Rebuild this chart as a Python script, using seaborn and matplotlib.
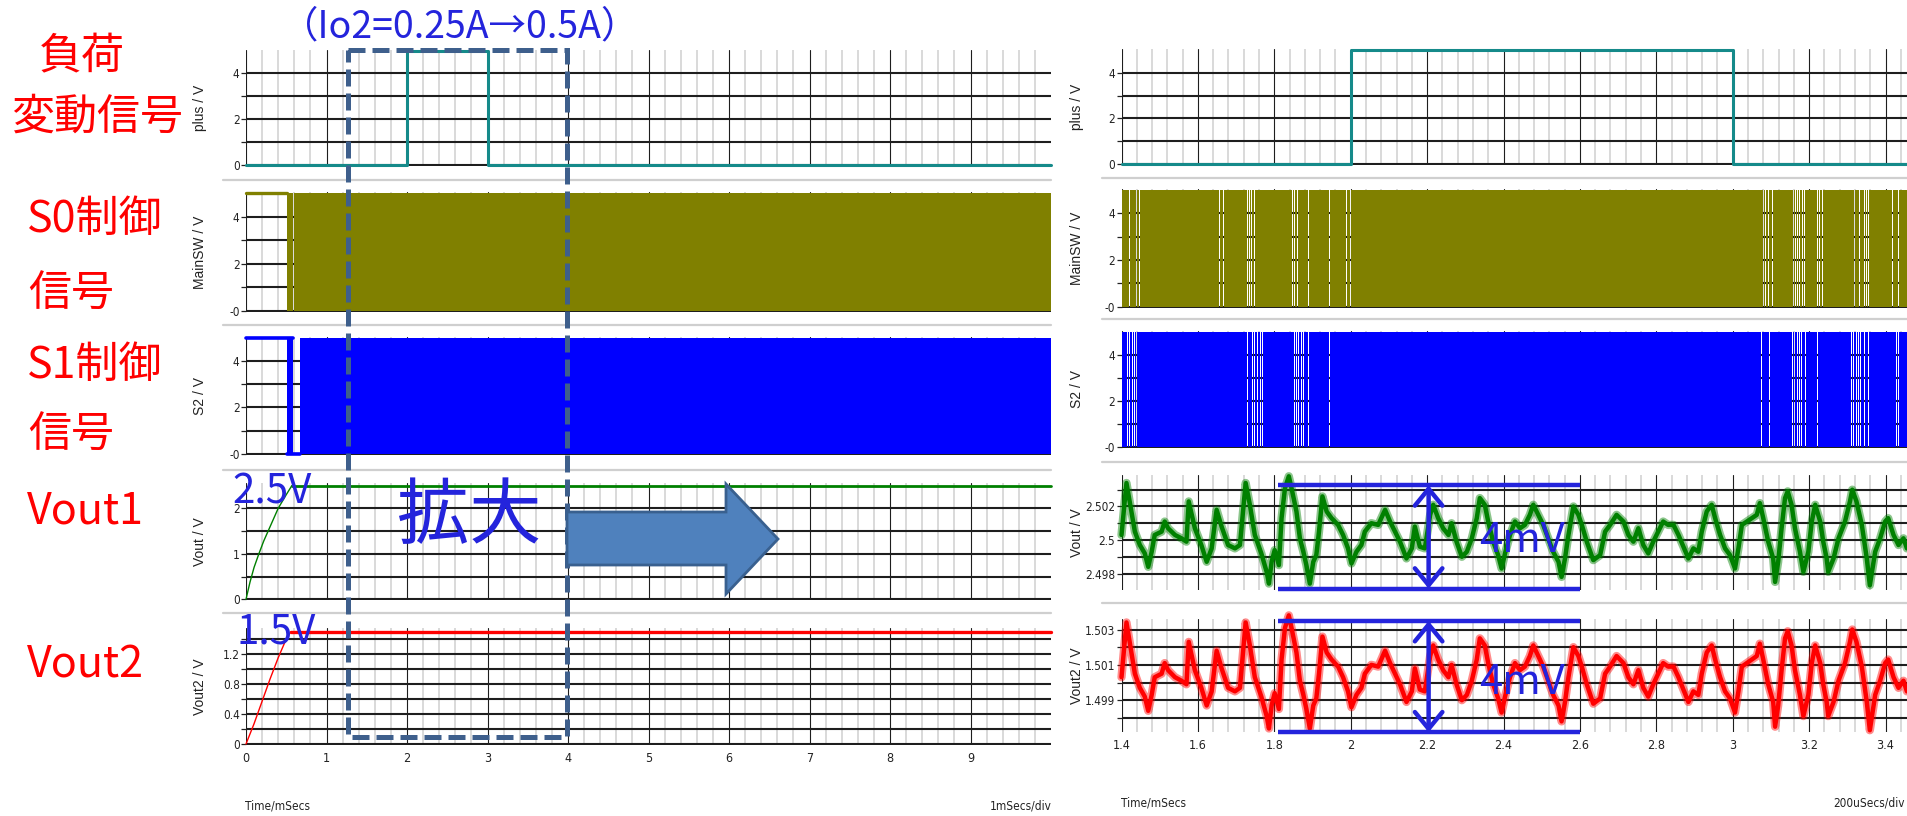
import numpy as np
import pandas as pd
import matplotlib
matplotlib.use("Agg")
import matplotlib.pyplot as plt
import seaborn as sns
from matplotlib.patches import Rectangle, Polygon
from matplotlib.transforms import blended_transform_factory
from matplotlib import font_manager

# ---------------------------------------------------------------- data
# load-step signal (plus): level changes at these times [ms]
plus_edges_ms = [0.0, 2.0, 3.0, 10.0]
plus_levels_v = [0.0, 5.0, 0.0]

# long-window switching signals (0 .. 10 ms)
main_hold_end_ms = 0.51          # MainSW held high during start-up
main_left_gaps_ms = [0.588, 0.621]
s2_hold_end_ms = 0.513           # S2 held high during start-up
s2_burst_end_ms = 0.58
s2_switch_start_ms = 0.67

# start-up ramps of both outputs
vout1_ramp_t = [0.0, 0.05, 0.10, 0.16, 0.22, 0.30, 0.40, 0.50, 0.57]
vout1_ramp_v = [0.0, 0.38, 0.70, 1.00, 1.28, 1.60, 2.00, 2.30, 2.50]
vout2_ramp_t = [0.0, 0.10, 0.20, 0.30, 0.40, 0.50, 0.56]
vout2_ramp_v = [0.0, 0.27, 0.57, 0.87, 1.15, 1.40, 1.50]
vout1_set_v = 2.5
vout2_set_v = 1.5

# zoomed window (1.4 .. 3.46 ms): skipped pulses (gaps in the switching)
main_right_gaps_ms = [1.422, 1.438, 1.448, 1.656, 1.668, 1.729, 1.735, 1.740,
                      1.748, 1.848, 1.854, 1.861, 1.889, 1.944, 1.988, 1.999,
                      3.080, 3.086, 3.093, 3.105, 3.159, 3.164, 3.170, 3.176,
                      3.183, 3.189, 3.222, 3.227, 3.236, 3.320, 3.331, 3.345,
                      3.351, 3.356, 3.419, 3.435]
s2_right_gaps_ms = [1.416, 1.422, 1.428, 1.434, 1.439, 1.730, 1.742, 1.749,
                    1.757, 1.763, 1.770, 1.852, 1.857, 1.863, 1.870, 1.877,
                    1.889, 1.944, 3.076, 3.096, 3.150, 3.156, 3.163, 3.169,
                    3.174, 3.181, 3.191, 3.223, 3.311, 3.317, 3.323, 3.329,
                    3.335, 3.346, 3.356, 3.428, 3.435]

# output ripple around the set point [mV]
ripple_t = [1.400, 1.413, 1.426, 1.435, 1.448, 1.461, 1.470, 1.479, 1.487, 1.505,
            1.513, 1.522, 1.540, 1.557, 1.570, 1.576, 1.592, 1.609, 1.623, 1.636,
            1.649, 1.662, 1.679, 1.697, 1.710, 1.725, 1.736, 1.749, 1.766, 1.780,
            1.786, 1.793, 1.801, 1.812, 1.819, 1.828, 1.838, 1.845, 1.858, 1.867,
            1.876, 1.884, 1.893, 1.902, 1.910, 1.917, 1.926, 1.937, 1.950, 1.967,
            1.980, 1.993, 2.002, 2.015, 2.028, 2.037, 2.054, 2.072, 2.090, 2.103,
            2.116, 2.129, 2.146, 2.160, 2.168, 2.181, 2.194, 2.208, 2.216, 2.229,
            2.242, 2.256, 2.264, 2.277, 2.291, 2.304, 2.317, 2.330, 2.338, 2.351,
            2.360, 2.373, 2.386, 2.395, 2.404, 2.417, 2.430, 2.443, 2.456, 2.469,
            2.478, 2.491, 2.504, 2.517, 2.530, 2.544, 2.552, 2.561, 2.570, 2.583,
            2.596, 2.605, 2.618, 2.635, 2.653, 2.666, 2.679, 2.696, 2.714, 2.727,
            2.740, 2.753, 2.766, 2.779, 2.792, 2.805, 2.818, 2.831, 2.845, 2.858,
            2.871, 2.884, 2.897, 2.910, 2.919, 2.932, 2.945, 2.954, 2.967, 2.980,
            2.993, 3.006, 3.015, 3.024, 3.037, 3.050, 3.063, 3.071, 3.080, 3.093,
            3.106, 3.111, 3.119, 3.128, 3.137, 3.144, 3.154, 3.163, 3.176, 3.185,
            3.198, 3.207, 3.216, 3.229, 3.237, 3.246, 3.250, 3.264, 3.277, 3.294,
            3.307, 3.313, 3.324, 3.338, 3.351, 3.359, 3.373, 3.386, 3.399, 3.407,
            3.421, 3.434, 3.447, 3.456]
ripple_mv = [0.3, 3.4, 1.7, 0.5, -0.3, -0.8, -1.6, -0.7, 0.3, 0.5,
             1.1, 0.7, 0.3, 0.1, -0.1, 2.3, 0.7, -0.3, -1.3, -0.5,
             1.8, 0.8, -0.3, -0.5, -0.3, 3.4, 2.1, 0.3, -0.8, -1.9,
             -2.6, -1.3, -0.6, -1.5, 1.3, 3.1, 3.8, 3.1, 1.7, 0.1,
             -0.7, -1.5, -2.6, -1.3, -0.9, 0.5, 2.6, 1.7, 1.3, 0.9,
             0.3, -0.5, -1.4, -0.7, -0.3, 0.5, 1.0, 0.9, 1.8, 1.1,
             0.5, -0.1, -1.1, -0.5, 0.8, -0.4, -0.5, 1.5, 2.1, 1.3,
             0.7, 0.3, 1.0, -0.1, -1.0, -0.7, 0.1, 1.3, 2.5, 2.1,
             1.1, -0.1, -0.9, -1.7, -0.8, 0.3, 1.1, 0.7, 0.9, 1.5,
             2.1, 1.5, 0.9, 0.1, -0.7, -1.3, -2.2, -1.1, 0.3, 2.0,
             1.5, 0.9, -0.1, -1.2, -0.9, 0.5, 0.9, 1.5, 1.1, 0.3,
             -0.1, 0.7, -0.3, -0.8, -0.1, 0.5, 1.1, 0.9, 0.9, 0.3,
             -0.4, -1.1, -0.5, -0.7, 0.5, 1.7, 2.1, 1.3, 0.3, -0.5,
             -0.9, -1.7, -0.5, 0.9, 1.1, 1.3, 1.5, 2.2, 1.3, -0.1,
             -1.1, -2.5, -1.3, 0.7, 2.5, 2.9, 2.1, 0.7, -0.7, -1.9,
             -0.7, 1.1, 2.1, 1.1, -0.1, -1.1, -1.9, -1.1, 0.1, 1.1,
             2.3, 3.0, 2.3, 0.9, -1.1, -2.7, -0.7, 0.1, 1.1, 1.3,
             0.3, -0.3, 0.1, -0.5]

# ripple bracket marked on the zoomed outputs
bracket_t = (1.81, 2.60)
bracket_arrow_t = 2.204
bracket1_v = (2.49710, 2.50326)
bracket2_v = (1.49718, 1.50348)

row_names = ["plus", "MainSW", "S2", "Vout", "Vout2"]

# ---------------------------------------------------------------- style
sns.set_theme(style="white")
plt.rcParams["font.family"] = ["Noto Sans CJK JP", "DejaVu Sans"]
_avail = {f.name for f in font_manager.fontManager.ttflist}
NARROW = "Liberation Sans Narrow" if "Liberation Sans Narrow" in _avail else "DejaVu Sans"
SANS = "Liberation Sans" if "Liberation Sans" in _avail else "DejaVu Sans"
TICK_KW = dict(family=NARROW, stretch="condensed")

TEAL, OLIVE, SIGBLUE = "#158a8a", "#808000", "#0000ff"
GREEN, RED = "#008000", "#ff0000"
NOTE = "#2424dc"
BOX = "#3e5f8c"

W, H, DPI = 1907, 816, 100
fig = plt.figure(figsize=(W / DPI, H / DPI), dpi=DPI)
fig.patch.set_facecolor("white")

LX = (246, 1051)
RX = (1121.5, 1907)
left_xlim = (0, 10)
right_xlim = (1.4, 1.4 + (RX[1] - RX[0]) / 382.0)

left_rows = {"plus": (49.6, 165.9), "MainSW": (192.4, 311.6), "S2": (336.6, 454.9),
             "Vout": (483.3, 600.2), "Vout2": (627.75, 744.75)}
right_rows = {"plus": (49.1, 164.9), "MainSW": (189.0, 307.6), "S2": (330.8, 448.2),
              "Vout": (474.6, 590.3), "Vout2": (618.9, 732.0)}
left_seps = [180, 325, 470, 613]
right_seps = [178, 319, 462, 603]

sw_ylim = (-0.04, 5.04)
sw_levels = [0, 1, 2, 3, 4]
left_ylims = {"plus": sw_ylim, "MainSW": sw_ylim, "S2": sw_ylim,
              "Vout": (-0.02, 2.55), "Vout2": (-0.01, 1.55)}
right_ylims = {"plus": sw_ylim, "MainSW": sw_ylim, "S2": sw_ylim,
               "Vout": (2.4970, 2.5039), "Vout2": (1.4972, 1.5036)}
left_levels = {"plus": (sw_levels, ["0", "", "2", "", "4"]),
               "MainSW": (sw_levels, ["-0", "", "2", "", "4"]),
               "S2": (sw_levels, ["-0", "", "2", "", "4"]),
               "Vout": ([0, 0.5, 1, 1.5, 2], ["0", "", "1", "", "2"]),
               "Vout2": ([0, 0.2, 0.4, 0.6, 0.8, 1.0, 1.2, 1.4],
                         ["0", "", "0.4", "", "0.8", "", "1.2", ""])}
right_levels = {"plus": left_levels["plus"], "MainSW": left_levels["MainSW"],
                "S2": left_levels["S2"],
                "Vout": ([2.498, 2.499, 2.500, 2.501, 2.502, 2.503],
                         ["2.498", "", "2.5", "", "2.502", ""]),
                "Vout2": ([1.498, 1.499, 1.500, 1.501, 1.502, 1.503],
                          ["", "1.499", "", "1.501", "", "1.503"])}
ylabels = {"plus": "plus / V", "MainSW": "MainSW / V", "S2": "S2 / V",
           "Vout": "Vout / V", "Vout2": "Vout2 / V"}


def make_axes(xpx, ypx, xlim, ylim):
    x0, x1 = xpx
    ytop, ybot = ypx
    ax = fig.add_axes([x0 / W, 1 - ybot / H, (x1 - x0) / W, (ybot - ytop) / H])
    ax.set_xlim(*xlim)
    ax.set_ylim(*ylim)
    ax.set_facecolor("none")
    for s in ax.spines.values():
        s.set_visible(False)
    ax.grid(False)
    return ax


def draw_grid(ax, xmajor, xminor, levels):
    ys, labs = levels
    for x in xminor:
        ax.axvline(x, color="#d9d9d9", lw=1.4, zorder=0)
    for x in xmajor:
        ax.axvline(x, color="#1e1e1e", lw=0.8, zorder=0.2)
    for y in ys:
        ax.axhline(y, color="#1e1e1e", lw=1.5, zorder=0.3)
    ax.set_yticks(ys, labs)
    ax.tick_params(axis="y", left=True, length=3.5, width=0.9, color="#222222",
                   pad=1.0, labelsize=8.5, labelcolor="#222222")
    for lab in ax.get_yticklabels():
        lab.set(**TICK_KW)
    ax.set_xticks([])
    ax.set_xlabel("")
    ax.set_ylabel("")


def segments(start, stop, gaps, width):
    """Switching bursts between skipped pulses, as (x, width) pairs."""
    edges = [start]
    for g in gaps:
        edges += [g - width / 2, g + width / 2]
    edges.append(stop)
    return [(edges[i], edges[i + 1] - edges[i]) for i in range(0, len(edges), 2)]


def line(ax, x, y, color, lw, **kw):
    df = pd.DataFrame({"t": x, "v": y})
    sns.lineplot(data=df, x="t", y="v", ax=ax, color=color, lw=lw,
                 estimator=None, sort=False, clip_on=False, **kw)
    ax.set_xlabel("")
    ax.set_ylabel("")


left_major = np.arange(0, 10, 1.0)
left_minor = [x for x in np.arange(0, 10.0001, 0.2) if abs(x - round(x)) > 1e-6]
right_major = np.round(np.arange(1.4, 3.41, 0.2), 2)
right_minor = [x for x in np.round(np.arange(1.4, 3.46, 0.04), 3)
               if abs((x - 1.4) / 0.2 - round((x - 1.4) / 0.2)) > 1e-6]

axL, axR = {}, {}
for name in row_names:
    axL[name] = make_axes(LX, left_rows[name], left_xlim, left_ylims[name])
    draw_grid(axL[name], left_major, left_minor, left_levels[name])
    axR[name] = make_axes(RX, right_rows[name], right_xlim, right_ylims[name])
    draw_grid(axR[name], right_major, right_minor, right_levels[name])

# ---- load-step signal
for ax, lo, hi in ((axL["plus"], 0.0, 10.0), (axR["plus"], right_xlim[0], right_xlim[1])):
    ex = [max(lo, e) for e in plus_edges_ms]
    ex[-1] = hi
    line(ax, ex, plus_levels_v + [plus_levels_v[-1]], TEAL, 2.2, drawstyle="steps-post")

# ---- MainSW (long window)
ax = axL["MainSW"]
line(ax, [0, main_hold_end_ms], [5, 5], OLIVE, 2.4)
ax.broken_barh(segments(main_hold_end_ms, 10.0, main_left_gaps_ms, 0.012), (0, 5),
               facecolor=OLIVE, edgecolor="none", zorder=2)

# ---- S2 (long window)
ax = axL["S2"]
line(ax, [0, s2_burst_end_ms], [5, 5], SIGBLUE, 2.6)
line(ax, [s2_hold_end_ms, s2_switch_start_ms], [0, 0], SIGBLUE, 2.6)
ax.broken_barh([(s2_hold_end_ms, s2_burst_end_ms - s2_hold_end_ms),
                (s2_switch_start_ms, 10.0 - s2_switch_start_ms)], (0, 5),
               facecolor=SIGBLUE, edgecolor="none", zorder=2)

# ---- switching signals (zoomed window)
axR["MainSW"].broken_barh(segments(right_xlim[0], right_xlim[1], main_right_gaps_ms, 0.0026),
                          (0, 5), facecolor=OLIVE, edgecolor="none", zorder=2)
axR["S2"].broken_barh(segments(right_xlim[0], right_xlim[1], s2_right_gaps_ms, 0.0026),
                      (0, 5), facecolor=SIGBLUE, edgecolor="none", zorder=2)

# ---- outputs (long window)
line(axL["Vout"], vout1_ramp_t, vout1_ramp_v, GREEN, 1.0)
line(axL["Vout"], [vout1_ramp_t[-1], 10.0], [vout1_set_v, vout1_set_v], GREEN, 2.0)
line(axL["Vout2"], vout2_ramp_t, vout2_ramp_v, RED, 1.0)
line(axL["Vout2"], [vout2_ramp_t[-1], 10.0], [vout2_set_v, vout2_set_v], RED, 2.4)

# ---- outputs (zoomed window): noisy trace drawn as a solid core with a soft rim
rip = np.array(ripple_mv) / 1000.0
for ax, base, col in ((axR["Vout"], vout1_set_v, GREEN), (axR["Vout2"], vout2_set_v, RED)):
    line(ax, ripple_t, base + rip, col, 6.0, alpha=0.45)
    line(ax, ripple_t, base + rip, col, 3.2)

# ---- ripple brackets
for ax, (vlo, vhi) in ((axR["Vout"], bracket1_v), (axR["Vout2"], bracket2_v)):
    for v in (vlo, vhi):
        ax.plot(bracket_t, [v, v], color=NOTE, lw=3.2, solid_capstyle="butt",
                clip_on=False, zorder=6)
    ax.annotate("", xy=(bracket_arrow_t, vhi), xytext=(bracket_arrow_t, vlo),
                arrowprops=dict(arrowstyle="<->,head_length=0.55,head_width=0.45",
                                color=NOTE, lw=3.2, mutation_scale=22,
                                shrinkA=0, shrinkB=0),
                annotation_clip=False, zorder=6)

# ---- time axes
for ax, ticks, labels in ((axL["Vout2"], list(range(10)), [str(i) for i in range(10)]),
                          (axR["Vout2"], list(right_major),
                           [f"{x:g}" for x in right_major])):
    ax.set_xticks(ticks, labels)
    ax.tick_params(axis="x", bottom=True, length=0, pad=5, labelsize=9,
                   labelcolor="#222222")
    for lab in ax.get_xticklabels():
        lab.set(**TICK_KW)

# ---------------------------------------------------------------- overlay
ov = fig.add_axes([0, 0, 1, 1], zorder=20)
ov.set_xlim(0, W)
ov.set_ylim(H, 0)
ov.axis("off")
ov.patch.set_alpha(0)

for seps, x0, x1 in ((left_seps, 223, 1051), (right_seps, 1102, 1907)):
    for y in seps:
        ov.plot([x0, x1], [y, y], color="#cfcfcf", lw=1.6, zorder=1)

for name in row_names:
    for rows, x in ((left_rows, 200), (right_rows, 1077)):
        yc = sum(rows[name]) / 2
        ov.text(x, yc, ylabels[name], rotation=90, ha="center", va="center",
                fontsize=10, family=SANS, color="#222222")

ov.text(245, 806, "Time/mSecs", ha="left", va="center", fontsize=8.5,
        color="#222222", **TICK_KW)
ov.text(1052, 806, "1mSecs/div", ha="right", va="center", fontsize=8.5,
        color="#222222", **TICK_KW)
ov.text(1121, 803, "Time/mSecs", ha="left", va="center", fontsize=8.5,
        color="#222222", **TICK_KW)
ov.text(1905, 803, "200uSecs/div", ha="right", va="center", fontsize=8.5,
        color="#222222", **TICK_KW)

# highlighted window on the long time axis (1.27 .. 3.99 ms)
bt = blended_transform_factory(axL["plus"].transData, ov.transData)
ov.add_patch(Rectangle((1.27, 49.5), 3.99 - 1.27, 737 - 49.5, transform=bt,
                       fill=False, edgecolor=BOX, lw=3.6,
                       linestyle=(0, (3.4, 1.4)), zorder=5))

# "zoom" arrow
ov.add_patch(Polygon([(567, 512), (726, 512), (726, 484), (778, 539),
                      (726, 594), (726, 565), (567, 565)], closed=True,
                     facecolor="#4f81bd", edgecolor="#39608f", lw=2.0, zorder=6))

jp = ["Noto Sans CJK JP", "DejaVu Sans"]
ov.text(460, 27, "（Io2=0.25A→0.5A）", ha="center", va="center", fontsize=27,
        color=NOTE, family=jp, zorder=8)
ov.text(272, 492, "2.5V", ha="center", va="center", fontsize=29, color=NOTE,
        family=jp, zorder=8)
ov.text(276, 632, "1.5V", ha="center", va="center", fontsize=29, color=NOTE,
        family=jp, zorder=8)
ov.text(469, 517, "拡大", ha="center", va="center", fontsize=52, color=NOTE,
        family=jp, zorder=8)
ov.text(1522, 541, "4mV", ha="center", va="center", fontsize=30, color=NOTE,
        family=jp, zorder=8)
ov.text(1522, 682, "4mV", ha="center", va="center", fontsize=30, color=NOTE,
        family=jp, zorder=8)

red_kw = dict(color=RED, family=jp, fontsize=31, va="center", zorder=8)
ov.text(82, 57, "負荷", ha="center", **red_kw)
ov.text(97, 118, "変動信号", ha="center", **red_kw)
ov.text(27, 220, "S0制御", ha="left", **red_kw)
ov.text(28, 294, "信号", ha="left", **red_kw)
ov.text(27, 366, "S1制御", ha="left", **red_kw)
ov.text(28, 435, "信号", ha="left", **red_kw)
ov.text(27, 511, "Vout1", ha="left", **red_kw)
ov.text(27, 665, "Vout2", ha="left", **red_kw)

fig.savefig("out.png", dpi=DPI, facecolor="white")
